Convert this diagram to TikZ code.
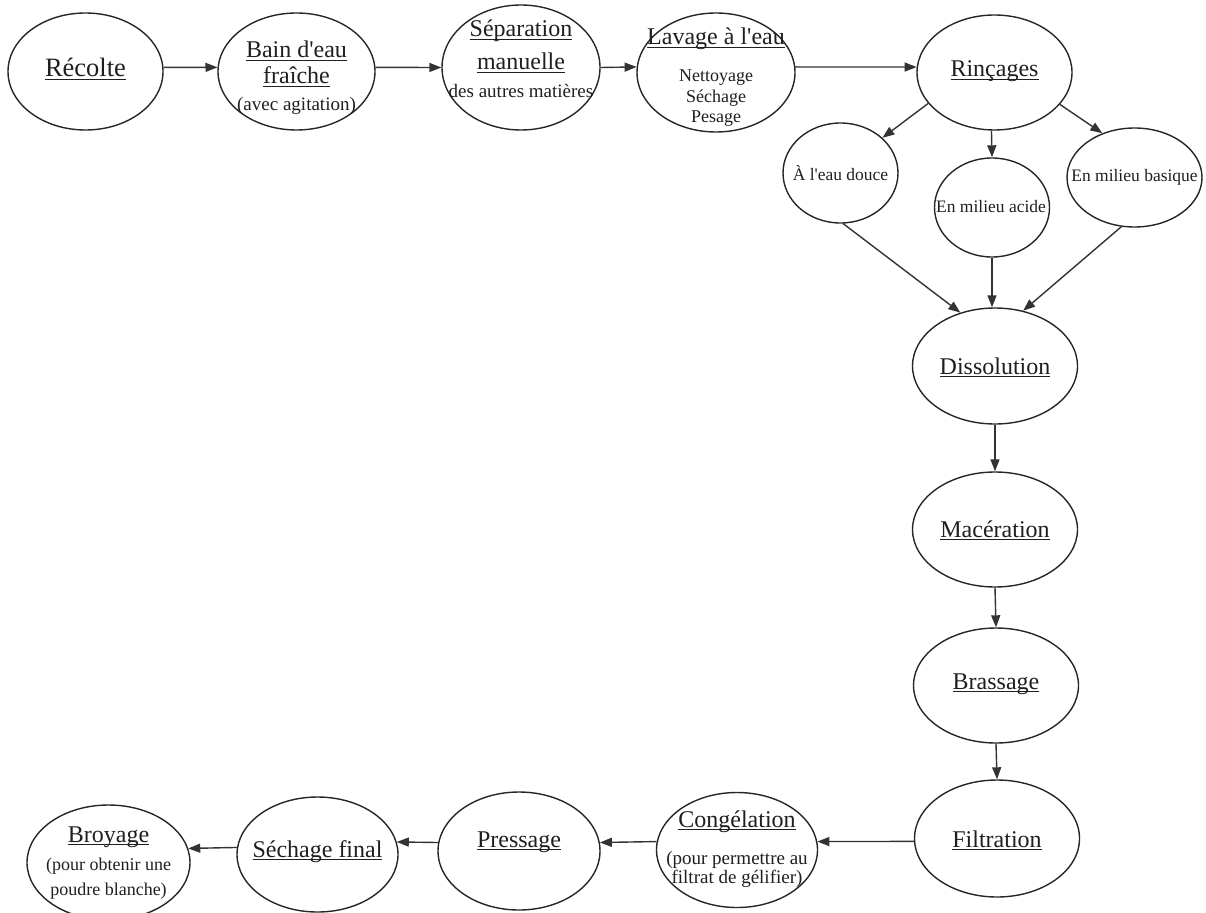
\documentclass[tikz,border=0pt]{standalone}
\usepackage{fontspec}
\setmainfont{Liberation Serif}
\usetikzlibrary{shapes.geometric,arrows.meta}
\newcommand\ulx[1]{\setbox0\hbox{#1}\rlap{\rule[-3pt]{\wd0}{1.2pt}}\box0}
\newcommand\ap{\textquotesingle}
\begin{document}
\begin{tikzpicture}[x=1pt,y=-1pt,
 ell/.style={ellipse, draw=black!85, line width=1.4pt, inner sep=0pt},
 arr/.style={draw=black!80, line width=1.4pt, -{Triangle[length=12pt,width=9pt]}},
 T/.style={anchor=base, inner sep=0pt, font=\fontsize{24}{28}\selectfont, text=black!88},
 S/.style={anchor=base, inner sep=0pt, font=\fontsize{18}{21}\selectfont, text=black!88},
 Sb/.style={S, font=\fontsize{19}{22}\selectfont},
 Ss/.style={S, font=\fontsize{17.5}{21}\selectfont},
]
\useasboundingbox (0,0) rectangle (1206,912);
% ellipses
\node[ell, minimum width=155pt, minimum height=117pt] (rec) at (85.5,71.5) {};
\node[ell, minimum width=157pt, minimum height=117pt] (bain) at (296.5,71.5) {};
\node[ell, minimum width=158pt, minimum height=125pt] (sep) at (521,67.5) {};
\node[ell, minimum width=158pt, minimum height=119pt] (lav) at (716,72.5) {};
\node[ell, minimum width=155pt, minimum height=115pt] (rin) at (994.5,72.5) {};
\node[ell, minimum width=115pt, minimum height=100pt] (douce) at (840.5,173) {};
\node[ell, minimum width=115pt, minimum height=99pt] (acide) at (992,207.5) {};
\node[ell, minimum width=135pt, minimum height=99pt] (bas) at (1134.5,177.5) {};
\node[ell, minimum width=165pt, minimum height=116pt] (dis) at (995,366) {};
\node[ell, minimum width=165pt, minimum height=115pt] (mac) at (995,529.5) {};
\node[ell, minimum width=165pt, minimum height=115pt] (bras) at (996,685.5) {};
\node[ell, minimum width=165pt, minimum height=117pt] (filt) at (997,838.5) {};
\node[ell, minimum width=161pt, minimum height=115pt] (cong) at (737,850) {};
\node[ell, minimum width=162pt, minimum height=118pt] (press) at (519,851) {};
\node[ell, minimum width=161pt, minimum height=115pt] (sech) at (317.5,854.5) {};
\node[ell, minimum width=163pt, minimum height=115pt] (broy) at (108.5,862.5) {};
% texts
\node[T, font=\fontsize{26.5}{30}\selectfont] (recT) at (85.5,77) {\ulx{Récolte}};
\node[T] (bainA) at (296.5,58) {\ulx{Bain d\ap eau}};
\node[T] (bainB) at (296.5,84) {\ulx{fraîche}};
\node[Sb] (bainC) at (296.5,111) {(avec agitation)};
\node[T] (sepA) at (521,37) {\ulx{Séparation}};
\node[T] (sepB) at (521,70) {\ulx{manuelle}};
\node[Sb] (sepC) at (521,98) {des autres matières};
\node[T] (lavA) at (716,45) {\ulx{Lavage à l\ap eau}};
\node[S] (lavB) at (716,82) {Nettoyage};
\node[S] (lavC) at (716,103) {Séchage};
\node[S] (lavD) at (716,123) {Pesage};
\node[T] (rinT) at (994.5,77) {\ulx{Rinçages}};
\node[Ss] (douceT) at (840.5,180) {À l\ap eau douce};
\node[Ss] (acideT) at (991,212) {En milieu acide};
\node[Ss] (basT) at (1134.5,182) {En milieu basique};
\node[T] (disT) at (995,374) {\ulx{Dissolution}};
\node[T] (macT) at (995,537) {\ulx{Macération}};
\node[T] (brasT) at (996,689) {\ulx{Brassage}};
\node[T] (filtT) at (997,847) {\ulx{Filtration}};
\node[T] (congA) at (737,827) {\ulx{Congélation}};
\node[Sb] (congB) at (737,864) {(pour permettre au};
\node[Sb] (congC) at (737,883) {filtrat de gélifier)};
\node[T] (pressT) at (519,847) {\ulx{Pressage}};
\node[T] (sechT) at (317.5,857) {\ulx{Séchage final}};
\node[T] (broyA) at (108.5,842) {\ulx{Broyage}};
\node[S] (broyB) at (108.5,870) {(pour obtenir une};
\node[S] (broyC) at (108.5,895) {poudre blanche)};
% connectors
\draw[arr] (rec.3) -- (bain.177);
\draw[arr] (bain.3) -- (sep.180);
\draw[arr] (sep.0) -- (lav.176);
\draw[arr] (lav.4) -- (rin.176);
\draw[arr] (rin.205) -- (douce.40);
\draw[arr] (rin.-93) -- (acide.north);
\draw[arr] (rin.-26) -- (bas.126);
\draw[arr] (douce.-87) -- (dis.123);
\draw[arr] (acide.south) -- (acide.south |- dis.north);
\draw[arr] (bas.-105) -- (dis.63);
\draw[arr] (dis.south) -- (mac.north);
\draw[arr] (mac.south) -- (bras.north);
\draw[arr] (bras.south) -- (filt.north);
\draw[arr] (filt.182) -- (cong.6);
\draw[arr] (cong.174) -- (press.6);
\draw[arr] (press.174) -- (sech.9);
\draw[arr] (sech.175) -- (broy.10);
\end{tikzpicture}
\end{document}
